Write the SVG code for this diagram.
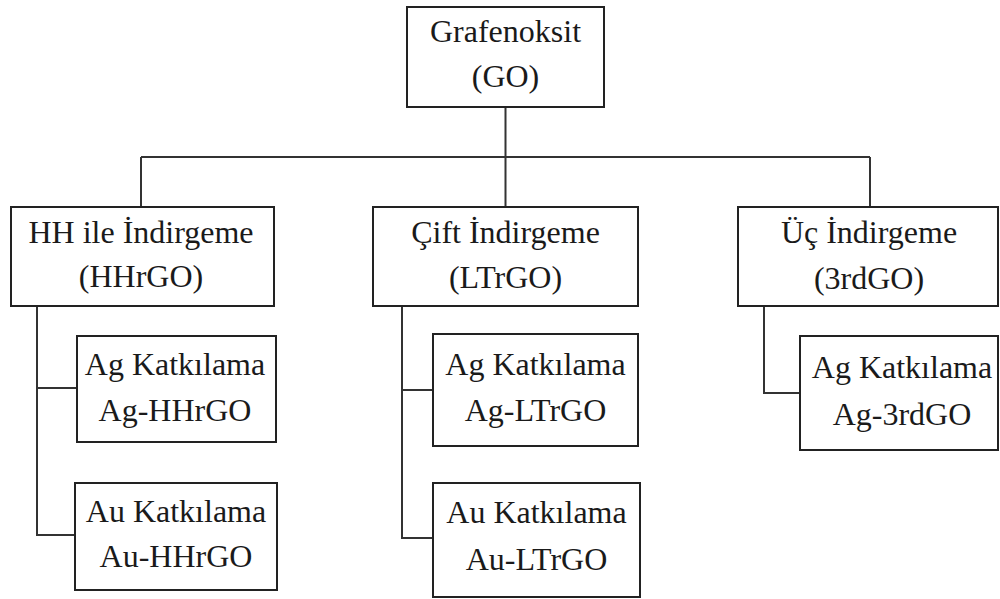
<svg xmlns="http://www.w3.org/2000/svg" width="1000" height="599" viewBox="0 0 1000 599">
<style>
.box{fill:#fff;stroke:#222;stroke-width:2}
.ln{fill:none;stroke:#333;stroke-width:2}
text{font-family:"Liberation Serif","Times New Roman",serif;font-size:32px;fill:#1a1a1a;text-anchor:middle}
</style>
<rect width="1000" height="599" fill="#fff"/>
<g id="connectors">
<path class="ln" d="M505.5 107V157M141 157H870M141 157V207M505.5 157V207M870 157V207"/>
<path class="ln" d="M37 306V535H75M37 388H77"/>
<path class="ln" d="M402 306V538H433M402 390H433"/>
<path class="ln" d="M764 306V393H800"/>
</g>
<g id="go"><rect class="box" x="407" y="7" width="197" height="100"/><text x="505.5" y="42">Grafenoksit</text><text x="505.5" y="87">(GO)</text></g>
<g id="hhrgo"><rect class="box" x="11" y="207" width="263" height="99"/><text x="141" y="243">HH ile İndirgeme</text><text x="141" y="287">(HHrGO)</text></g>
<g id="ag-hhrgo"><rect class="box" x="77" y="336" width="199" height="106"/><text x="175" y="375">Ag Katkılama</text><text x="175" y="421">Ag-HHrGO</text></g>
<g id="au-hhrgo"><rect class="box" x="75" y="483" width="202" height="107"/><text x="176" y="522">Au Katkılama</text><text x="176" y="567">Au-HHrGO</text></g>
<g id="ltrgo"><rect class="box" x="373" y="207" width="265" height="99"/><text x="505.5" y="243">Çift İndirgeme</text><text x="505.5" y="288">(LTrGO)</text></g>
<g id="ag-ltrgo"><rect class="box" x="433" y="334" width="205" height="112"/><text x="535.5" y="375">Ag Katkılama</text><text x="535.5" y="421">Ag-LTrGO</text></g>
<g id="au-ltrgo"><rect class="box" x="433" y="483" width="207" height="114"/><text x="536.5" y="523">Au Katkılama</text><text x="536.5" y="570">Au-LTrGO</text></g>
<g id="3rdgo"><rect class="box" x="738" y="207" width="260" height="99"/><text x="869" y="243">Üç İndirgeme</text><text x="869" y="289">(3rdGO)</text></g>
<g id="ag-3rdgo"><rect class="box" x="800" y="336" width="198" height="114"/><text x="902" y="378">Ag Katkılama</text><text x="902" y="425">Ag-3rdGO</text></g>
</svg>
